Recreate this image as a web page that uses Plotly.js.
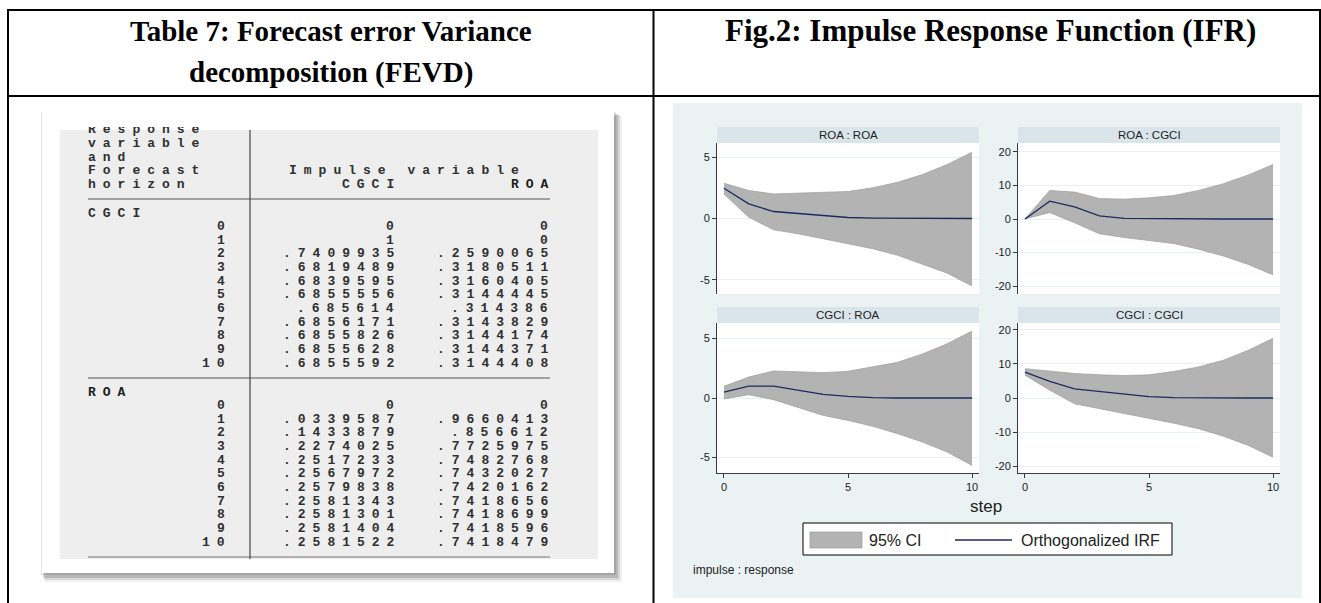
<!DOCTYPE html>
<html>
<head>
<meta charset="utf-8">
<script src="https://cdn.plot.ly/plotly-3.0.1.min.js"></script>
<style>
html,body{margin:0;padding:0;background:#ffffff;}
#chart{width:1321px;height:603px;}
</style>
</head>
<body>
<div id="chart"></div>
<script>
// ---------------- DATA ----------------
// FEVD table (Table 7)
const horizons = [0,1,2,3,4,5,6,7,8,9,10];
const fevdCgciByCgci = [0, 1, 0.7409935, 0.6819489, 0.6839595, 0.6855556, 0.685614, 0.6856171, 0.6855826, 0.6855628, 0.6855592];
const fevdCgciByRoa  = [0, 0, 0.2590065, 0.3180511, 0.3160405, 0.3144445, 0.314386, 0.3143829, 0.3144174, 0.3144371, 0.3144408];
const fevdRoaByCgci  = [0, 0.0339587, 0.1433879, 0.2274025, 0.2517233, 0.2567972, 0.2579838, 0.2581343, 0.2581301, 0.2581404, 0.2581522];
const fevdRoaByRoa   = [0, 0.9660413, 0.856612, 0.7725975, 0.7482768, 0.7432027, 0.7420162, 0.7418656, 0.7418699, 0.7418596, 0.7418479];
const headerLines = ["Response", "variable", "and", "Forecast", "horizon"];
const impulseHeader = "Impulse variable";
const impulseNames = ["CGCI", "ROA"];
const responseNames = ["CGCI", "ROA"];

// IRF (Fig.2) — impulse : response
const steps = [0,1,2,3,4,5,6,7,8,9,10];
const panelTitles = ["ROA : ROA", "ROA : CGCI", "CGCI : ROA", "CGCI : CGCI"];
const irfRoaRoa    = [2.46, 1.19, 0.57, 0.40, 0.22, 0.08, 0.03, 0.01, 0.00, 0.00, 0.00];
const loRoaRoa     = [2.00, 0.10, -0.92, -1.25, -1.65, -2.06, -2.47, -3.00, -3.70, -4.45, -5.50];
const hiRoaRoa     = [2.87, 2.28, 2.00, 2.05, 2.10, 2.20, 2.50, 2.95, 3.58, 4.40, 5.40];
const irfRoaCgci   = [0.0, 5.3, 3.6, 0.9, 0.2, 0.1, 0.05, 0.0, 0.0, 0.0, 0.0];
const loRoaCgci    = [0.0, 1.9, -1.1, -4.4, -5.5, -6.3, -7.3, -9.0, -11.0, -13.5, -16.6];
const hiRoaCgci    = [0.0, 8.5, 8.0, 6.1, 5.9, 6.3, 7.0, 8.5, 10.5, 13.1, 16.2];
const irfCgciRoa   = [0.50, 1.00, 1.00, 0.64, 0.31, 0.14, 0.03, 0.00, 0.00, 0.00, 0.00];
const loCgciRoa    = [-0.08, 0.28, -0.14, -0.80, -1.46, -1.88, -2.38, -3.00, -3.70, -4.54, -5.66];
const hiCgciRoa    = [0.98, 1.76, 2.27, 2.20, 2.13, 2.24, 2.60, 3.00, 3.70, 4.56, 5.63];
const irfCgciCgci  = [7.6, 4.9, 2.7, 2.0, 1.1, 0.4, 0.1, 0.0, 0.0, 0.0, 0.0];
const loCgciCgci   = [6.7, 2.3, -1.7, -3.1, -4.6, -6.1, -7.4, -9.0, -11.2, -13.9, -17.4];
const hiCgciCgci   = [8.6, 7.8, 7.2, 6.8, 6.6, 6.8, 7.8, 9.1, 11.1, 14.0, 17.5];
const smallTicks = [-5, 0, 5];
const bigTicks = [-20, -10, 0, 10, 20];
const stepTicks = [0, 5, 10];
const legendLabels = ["95% CI", "Orthogonalized IRF"];

// ---------------- LAYOUT HELPERS ----------------
const W = 1321, H = 603;
const px = x => x / W;
const py = y => 1 - y / H;
const SANS = "Liberation Sans, Arial, sans-serif";
const SERIF = "Liberation Serif, Times New Roman, serif";
const MONO = "Liberation Mono, DejaVu Sans Mono, monospace";
const LS = 7.0; // letter spacing for the wide Stata console font
const MONO_SIZE = 13;
const TXT = '#303030';

function fmt(v) {
  if (v === 0) return "0";
  if (v === 1) return "1";
  return String(v).replace(/^0/, '');
}
function monoAnn(s, x, y, anchor, bold, extra) {
  const a = {
    xref: 'paper', yref: 'paper',
    x: px(anchor === 'right' ? x + LS : x), y: py(y),
    xanchor: anchor, yanchor: 'middle',
    text: '<span style="letter-spacing:' + LS + 'px">' + s + '</span>',
    showarrow: false, borderpad: 0, borderwidth: 0,
    font: {family: MONO, size: MONO_SIZE, color: bold ? '#1a1a1a' : TXT, weight: 'bold'}
  };
  return Object.assign(a, extra || {});
}
function textAnn(s, x, y, size, opts) {
  return Object.assign({
    xref: 'paper', yref: 'paper', x: px(x), y: py(y),
    xanchor: 'center', yanchor: 'middle', text: s, showarrow: false,
    borderpad: 0, borderwidth: 0,
    font: {family: SANS, size: size, color: '#222'}
  }, opts || {});
}
function rect(x0, y0, x1, y1, fill, line, lw) {
  return {type: 'rect', xref: 'paper', yref: 'paper', layer: 'below',
    x0: px(x0), x1: px(x1), y0: py(y1), y1: py(y0),
    fillcolor: fill, line: {color: line || 'rgba(0,0,0,0)', width: lw || 0}};
}
function hline(x0, x1, y, color, w, layer) {
  return {type: 'line', xref: 'paper', yref: 'paper', layer: layer || 'above',
    x0: px(x0), x1: px(x1), y0: py(y), y1: py(y), line: {color: color, width: w}};
}
function vline(x, y0, y1, color, w, layer) {
  return {type: 'line', xref: 'paper', yref: 'paper', layer: layer || 'above',
    x0: px(x), x1: px(x), y0: py(y0), y1: py(y1), line: {color: color, width: w}};
}

const shapes = [];
const annotations = [];

// ---------- outer document table ----------
shapes.push(hline(7, 1321, 10, '#000', 2));
shapes.push(hline(7, 1321, 96, '#000', 2));
shapes.push(vline(8, 9, 603, '#000', 2));
shapes.push(vline(653.5, 9, 603, '#000', 2));
shapes.push(vline(1320, 9, 603, '#000', 2));

const titleFont = {family: SERIF, size: 29, color: '#000', weight: 'bold'};
annotations.push(textAnn('Table 7: Forecast error Variance', 331, 31, 29, {font: titleFont}));
annotations.push(textAnn('decomposition (FEVD)', 331, 72, 29, {font: titleFont}));
annotations.push(textAnn('Fig.2: Impulse Response Function (IFR)', 990, 31, 31, {font: Object.assign({}, titleFont, {size: 31})}));

// ---------- FEVD table picture ----------
shapes.push(rect(45, 116, 622, 582, 'rgba(0,0,0,0.06)'));
shapes.push(rect(44, 115, 620, 580, 'rgba(0,0,0,0.10)'));
shapes.push(rect(43, 114, 618, 578, 'rgba(0,0,0,0.14)'));
shapes.push(rect(41, 112, 616, 575, 'rgba(0,0,0,0.10)'));
shapes.push(rect(42, 112, 614, 573, '#ffffff'));
shapes.push(rect(60, 130, 598, 559, '#eeeeee'));
// table rules
shapes.push(hline(88, 550, 199, '#555', 1.2));
shapes.push(hline(88, 550, 378, '#555', 1.2));
shapes.push(hline(88, 550, 557, '#777', 1.2));
shapes.push(vline(250, 130, 559, '#444', 1.2));

const ROW = 13.65;
// header (first line clipped by the picture top)
annotations.push(monoAnn(headerLines[0], 88, 124, 'left', false, {yanchor: 'top', height: 10, valign: 'bottom', y: py(127)}));
for (let i = 1; i < headerLines.length; i++) {
  annotations.push(monoAnn(headerLines[i], 88, 130 + ROW * i, 'left'));
}
annotations.push(monoAnn(impulseHeader, 289, 130 + ROW * 3, 'left'));
annotations.push(monoAnn(impulseNames[0], 394, 130 + ROW * 4, 'right'));
annotations.push(monoAnn(impulseNames[1], 548, 130 + ROW * 4, 'right', true));

function block(label, y0, colA, colB, bold) {
  annotations.push(monoAnn(label, 88, y0, 'left', bold));
  horizons.forEach((h, i) => {
    const y = y0 + ROW * (i + 1);
    annotations.push(monoAnn(String(h), 225, y, 'right'));
    annotations.push(monoAnn(fmt(colA[i]), 394, y, 'right'));
    annotations.push(monoAnn(fmt(colB[i]), 548, y, 'right'));
  });
}
block(responseNames[0], 213, fevdCgciByCgci, fevdCgciByRoa, false);
block(responseNames[1], 392, fevdRoaByCgci, fevdRoaByRoa, true);

// ---------- IRF graph (Stata style) ----------
shapes.push(rect(673, 103, 1302, 598, '#eaf2f3'));
const panels = [
  {x0: 717, x1: 979, y0: 143, y1: 294, ax: '', title: panelTitles[0]},
  {x0: 1018, x1: 1280, y0: 143, y1: 294, ax: '2', title: panelTitles[1]},
  {x0: 717, x1: 979, y0: 323, y1: 473, ax: '3', title: panelTitles[2]},
  {x0: 1018, x1: 1280, y0: 323, y1: 473, ax: '4', title: panelTitles[3]}
];
panels.forEach(p => {
  shapes.push(rect(p.x0, p.y0, p.x1, p.y1, '#ffffff'));
  shapes.push(rect(p.x0, p.y0 - 16, p.x1, p.y0, '#d9e5eb'));
  annotations.push(textAnn(p.title, (p.x0 + p.x1) / 2, p.y0 - 8, 11.5, {font: {family: SANS, size: 11.5, color: '#222'}}));
});

const CI_FILL = '#b3b3b3', CI_LINE = '#9c9c9c', IRF_COLOR = '#1c2b5e';
function panelTraces(lo, hi, irf, ax) {
  const xa = 'x' + ax, ya = 'y' + ax;
  return [
    {x: steps, y: lo, xaxis: xa, yaxis: ya, mode: 'lines', line: {color: CI_LINE, width: 0.7}, showlegend: false, hoverinfo: 'skip'},
    {x: steps, y: hi, xaxis: xa, yaxis: ya, mode: 'lines', fill: 'tonexty', fillcolor: CI_FILL, line: {color: CI_LINE, width: 0.7}, showlegend: false, hoverinfo: 'skip'},
    {x: steps, y: irf, xaxis: xa, yaxis: ya, mode: 'lines', line: {color: IRF_COLOR, width: 1.3}, showlegend: false}
  ];
}
const data = [].concat(
  panelTraces(loRoaRoa, hiRoaRoa, irfRoaRoa, ''),
  panelTraces(loRoaCgci, hiRoaCgci, irfRoaCgci, '2'),
  panelTraces(loCgciRoa, hiCgciRoa, irfCgciRoa, '3'),
  panelTraces(loCgciCgci, hiCgciCgci, irfCgciCgci, '4')
);

function xAxis(p, bottom) {
  return {
    domain: [px(p.x0), px(p.x1)], anchor: 'y' + p.ax, range: [-0.28, 10.28],
    showgrid: false, zeroline: false, fixedrange: true,
    showline: bottom, linecolor: '#3a3a3a', linewidth: 1,
    ticks: bottom ? 'outside' : '', ticklen: 4, tickcolor: '#3a3a3a',
    showticklabels: bottom, tickvals: stepTicks, ticktext: stepTicks.map(String),
    tickfont: {family: SANS, size: 11, color: '#222'}
  };
}
function yAxis(p, range, tv) {
  return {
    domain: [py(p.y1), py(p.y0)], anchor: 'x' + p.ax, range: range,
    showgrid: true, gridcolor: '#e6eff1', gridwidth: 1, zeroline: false, fixedrange: true,
    showline: true, linecolor: '#3a3a3a', linewidth: 1,
    ticks: 'outside', ticklen: 4, tickcolor: '#3a3a3a',
    tickvals: tv, ticktext: tv.map(String),
    tickfont: {family: SANS, size: 11, color: '#222'}
  };
}

// axis title, legend and note
annotations.push(textAnn('step', 986, 507, 17, {font: {family: SANS, size: 17, color: '#222'}}));
shapes.push(rect(803, 523, 1172, 555, '#ffffff', '#000', 1));
shapes.push(rect(810, 532, 862, 548, CI_FILL, CI_LINE, 0.7));
shapes.push(hline(955, 1012, 540, IRF_COLOR, 1.3, 'below'));
annotations.push(textAnn(legendLabels[0], 869, 540, 16, {xanchor: 'left', font: {family: SANS, size: 16, color: '#222'}}));
annotations.push(textAnn(legendLabels[1], 1021, 540, 16, {xanchor: 'left', font: {family: SANS, size: 16, color: '#222'}}));
annotations.push(textAnn('impulse : response', 693, 570, 12, {xanchor: 'left', font: {family: SANS, size: 12, color: '#222'}}));

const layout = {
  width: W, height: H,
  margin: {l: 0, r: 0, t: 0, b: 0, pad: 0},
  paper_bgcolor: '#ffffff', plot_bgcolor: 'rgba(0,0,0,0)',
  showlegend: false,
  xaxis: xAxis(panels[0], false), yaxis: yAxis(panels[0], [-6.15, 6.15], smallTicks),
  xaxis2: xAxis(panels[1], false), yaxis2: yAxis(panels[1], [-22.3, 22.6], bigTicks),
  xaxis3: xAxis(panels[2], true), yaxis3: yAxis(panels[2], [-6.3, 6.3], smallTicks),
  xaxis4: xAxis(panels[3], true), yaxis4: yAxis(panels[3], [-22, 22], bigTicks),
  shapes: shapes,
  annotations: annotations
};

Plotly.newPlot('chart', data, layout, {staticPlot: true, displayModeBar: false});
</script>
</body>
</html>
